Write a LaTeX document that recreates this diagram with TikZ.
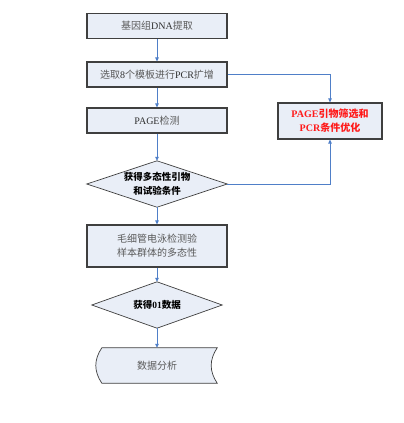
\documentclass[tikz,border=0pt]{standalone}
\usepackage{fontspec}
\setmainfont{Liberation Serif}
\newfontfamily\cjk{Noto Sans CJK SC}
\usetikzlibrary{arrows.meta}
\definecolor{boxfill}{HTML}{E9EEF7}
\definecolor{boxline}{HTML}{3F3F3F}
\definecolor{arr}{HTML}{4F7FC8}
\definecolor{txt}{HTML}{5A5A5A}
\definecolor{dark}{HTML}{303030}
\definecolor{redtxt}{HTML}{FF1A1A}
\newcommand\zh[1]{{\cjk #1}}
\newcommand\la[1]{{\color{dark}#1}}
\begin{document}
\begin{tikzpicture}[x=1pt,y=-1pt,
  stepbox/.style={draw=boxline, line width=1.1pt, fill=boxfill, minimum width=140pt,
    minimum height=25pt, inner sep=0pt, font=\fontsize{10}{14}\selectfont, text=txt, align=center},
  holder/.style={draw=none, inner sep=0pt, align=center},
  shapeline/.style={draw=boxline, line width=0.7pt, fill=boxfill},
  conn/.style={draw=arr, line width=0.8pt, -{Triangle[length=4pt,width=3.5pt]}}
]
\useasboundingbox (0,0) rectangle (404,423);
\fill[white] (0,0) rectangle (404,423);

\node[stepbox] (b1) at (157,26) {\zh{基因组}\la{DNA}\zh{提取}};
\node[stepbox] (b2) at (157,74.5) {\zh{选取}\la{8}\zh{个模板进行}\la{PCR}\zh{扩增}};
\node[stepbox] (b3) at (157,120.5) {\la{PAGE}\zh{检测}};

\node[holder, minimum width=140pt, minimum height=46pt] (d1) at (157,184) {};
\path[shapeline] (d1.north) -- (d1.east) -- (d1.south) -- (d1.west) -- cycle;
\node[holder, font=\cjk\bfseries\fontsize{9.5}{14}\selectfont, text=black] at (d1.center) {获得多态性引物\\和试验条件};

\node[stepbox, minimum height=42pt] (b4) at (157,246) {\zh{毛细管电泳检测验}\\\zh{样本群体的多态性}};

\node[holder, minimum width=130pt, minimum height=46pt] (d2) at (157,305) {};
\path[shapeline] (d2.north) -- (d2.east) -- (d2.south) -- (d2.west) -- cycle;
\node[holder, font=\bfseries\fontsize{9.5}{14}\selectfont, text=black] at (d2.center) {\zh{获得}01\zh{数据}};

\node[holder, minimum width=115pt, minimum height=35pt] (t) at (159.5,365.5) {};
\path[shapeline] (t.north west) -- (t.north east)
  .. controls +(-8,12) and +(-8,-12) .. (t.south east)
  -- (t.south west)
  .. controls +(-8,-12) and +(-8,12) .. (t.north west) -- cycle;
\node[holder, font=\cjk\fontsize{10}{14}\selectfont, text=txt] at (157,365.5) {数据分析};

\node[stepbox, minimum width=104pt, minimum height=36pt, text=redtxt,
  font=\bfseries\fontsize{10}{14}\selectfont] (r) at (330,121)
  {PAGE\zh{引物筛选和}\\PCR\zh{条件优化}};

\draw[conn] (b1) -- (b2);
\draw[conn] (b2) -- (b3);
\draw[conn] (b3) -- (d1.north);
\draw[conn] (d1.south) -- (b4);
\draw[conn] (b4) -- (d2.north);
\draw[conn] (d2.south) -- (t.north -| d2.south);
\draw[conn] (b2.east) -- (r.north |- b2.east) -- (r.north);
\draw[conn] (d1.east) -- (r.south |- d1.east) -- (r.south);
\end{tikzpicture}
\end{document}
